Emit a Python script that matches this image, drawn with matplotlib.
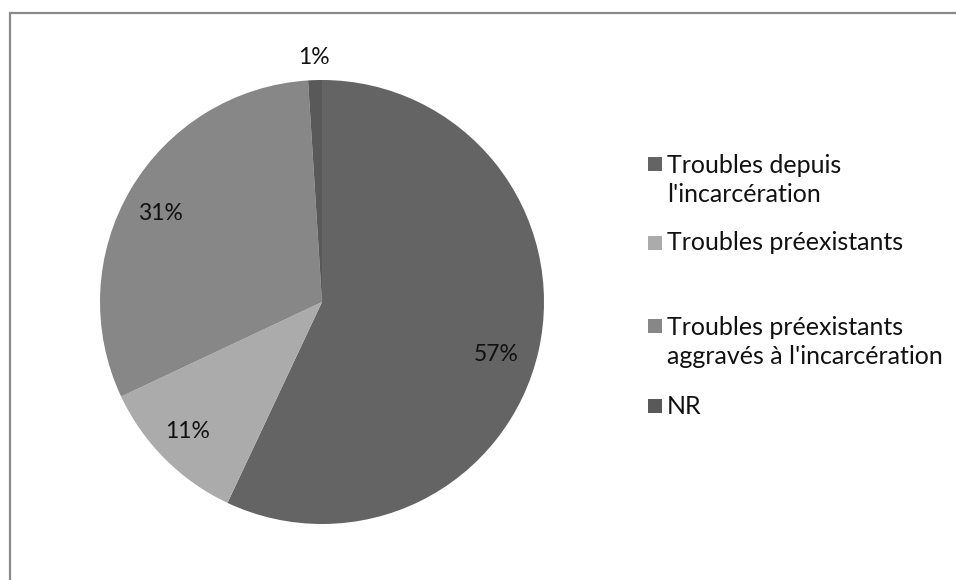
import numpy as np
import matplotlib
matplotlib.use("Agg")
import matplotlib.pyplot as plt
from matplotlib.patches import Rectangle

categories = [
    "Troubles depuis\nl'incarcération",
    "Troubles préexistants",
    "Troubles préexistants\naggravés à l'incarcération",
    "NR",
]
values = [57, 11, 31, 1]
colors = ["#646464", "#ababab", "#878787", "#595959"]

W, H = 956, 580
fig = plt.figure(figsize=(W / 100, H / 100), dpi=100)
fig.patch.set_facecolor("white")
FONT = ["Lato", "DejaVu Sans"]

# pie centre and radius in pixels
cx, cy, r = 322, 302, 222
ax = fig.add_axes([(cx - r) / W, (H - cy - r) / H, 2 * r / W, 2 * r / H])
wedges, _ = ax.pie(values, colors=colors, startangle=90, counterclock=False,
                   radius=1.0, wedgeprops=dict(linewidth=0))
ax.set_xlim(-1, 1)
ax.set_ylim(-1, 1)
ax.set_aspect("equal")
ax.axis("off")

# percentage labels
dists = [0.82, 0.84, 0.83, 1.1]
offs = [4, 1, -2, 0]
total = sum(values)
cum = 0
for v, d, o in zip(values, dists, offs):
    mid = (cum + v / 2) / total * 360 + o
    cum += v
    ang = np.deg2rad(90 - mid)
    ax.text(d * np.cos(ang), d * np.sin(ang), f"{v}%", ha="center", va="center",
            fontsize=16.5, family=FONT, color="#111111", clip_on=False)

# legend
legend_y = [180, 243, 342, 406]
for lab, col, ly in zip(categories, colors, legend_y):
    lines = lab.split("\n")
    top = ly - (len(lines) - 1) * 16
    fig.patches.append(Rectangle((648 / W, (H - top - 7) / H), 14 / W, 14 / H,
                                 transform=fig.transFigure, facecolor=col,
                                 edgecolor="none", figure=fig))
    fig.text(667 / W, (H - ly) / H, lab, ha="left", va="center",
             fontsize=18, family=FONT, color="#111111", linespacing=1.32)

# chart frame
fig.patches.append(Rectangle((9.5 / W, -0.1), 1.2, (H - 12.5) / H + 0.1,
                             transform=fig.transFigure, facecolor="none",
                             edgecolor="#8a8a8a", linewidth=1.6, figure=fig))

fig.savefig("out.png", dpi=100)
